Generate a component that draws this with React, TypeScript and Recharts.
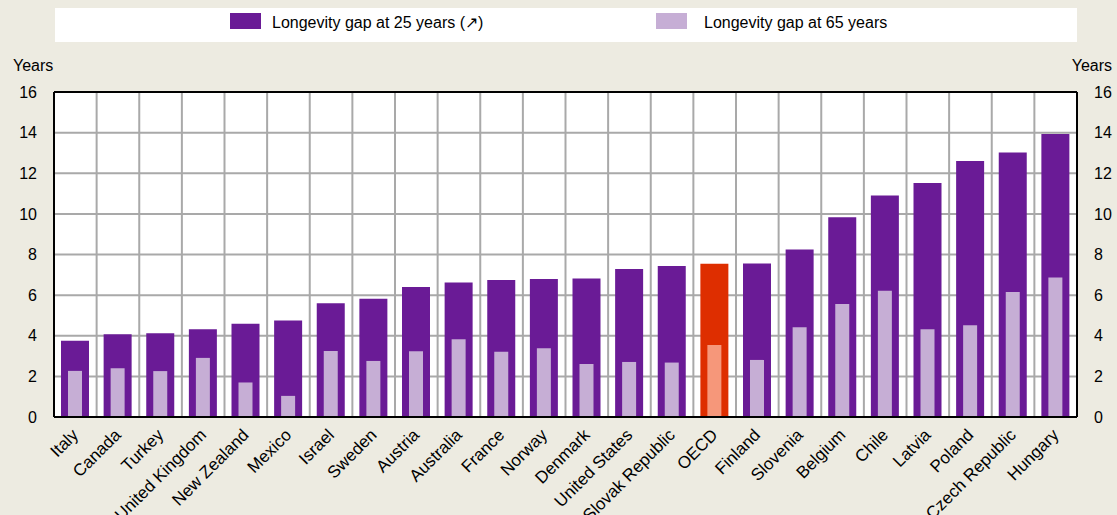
import {
  BarChart, Bar, XAxis, YAxis, CartesianGrid, Legend, Cell, ReferenceLine,
} from "recharts";

const countries = [
  "Italy", "Canada", "Turkey", "United Kingdom", "New Zealand", "Mexico",
  "Israel", "Sweden", "Austria", "Australia", "France", "Norway", "Denmark",
  "United States", "Slovak Republic", "OECD", "Finland", "Slovenia", "Belgium",
  "Chile", "Latvia", "Poland", "Czech Republic", "Hungary",
];

const gap25 = [
  3.76, 4.07, 4.12, 4.32, 4.59, 4.75, 5.6, 5.82, 6.4, 6.62, 6.74, 6.8, 6.82,
  7.29, 7.44, 7.55, 7.56, 8.25, 9.84, 10.91, 11.52, 12.6, 13.02, 13.93,
];

const gap65 = [
  2.27, 2.4, 2.26, 2.91, 1.7, 1.04, 3.25, 2.76, 3.24, 3.83, 3.21, 3.39, 2.61,
  2.71, 2.68, 3.55, 2.81, 4.42, 5.56, 6.22, 4.32, 4.52, 6.16, 6.87,
];

const yTicks = [0, 2, 4, 6, 8, 10, 12, 14, 16];

const DARK = "#6A1B96";
const LIGHT = "#C6AED5";
const RED = "#DE2E00";
const LIGHT_RED = "#F6977A";
const BG = "#EDEBE1";
const FONT = "'Liberation Sans', Arial, sans-serif";

const data = countries.map((name, i) => ({ name, gap25: gap25[i], gap65: gap65[i] }));

function CountryTick({ x, y, payload }: any) {
  return (
    <g transform={`translate(${x + 4},${y + 19})`}>
      <text textAnchor="end" transform="rotate(-45)" fontSize={17} fill="#000" fontFamily={FONT}>
        {payload.value}
      </text>
    </g>
  );
}

function YearsLabel({ viewBox, side }: any) {
  const left = side === "left";
  return (
    <text
      x={left ? 13 : viewBox.x + 35}
      y={71}
      textAnchor={left ? "start" : "end"}
      fontSize={16}
      fill="#000"
      fontFamily={FONT}
    >
      Years
    </text>
  );
}

function LegendBox() {
  const txt = { position: "absolute" as const, top: 6, fontSize: 16, lineHeight: "18px", color: "#000", whiteSpace: "nowrap" as const };
  return (
    <div style={{ position: "relative", width: 1117, height: 84, fontFamily: FONT }}>
      <div style={{ position: "absolute", left: 55, top: 0, width: 1022, height: 34, background: "#fff" }}>
        <div style={{ position: "absolute", left: 175, top: 5, width: 31, height: 16, background: DARK }} />
        <div style={{ ...txt, left: 217 }}>Longevity gap at 25 years (↗)</div>
        <div style={{ position: "absolute", left: 601, top: 5, width: 31, height: 16, background: LIGHT }} />
        <div style={{ ...txt, left: 649 }}>Longevity gap at 65 years</div>
      </div>
    </div>
  );
}

export default function App() {
  return (
    <div style={{ position: "absolute", left: 0, top: 0, width: 1117, height: 515, background: BG, fontFamily: FONT }}>
      <BarChart width={1117} height={515} data={data} margin={{ top: 8, right: 0, bottom: 0, left: 0 }}>
        <Legend verticalAlign="top" align="left" content={<LegendBox />} />
        <CartesianGrid
          xAxisId="main"
          yAxisId="left"
          fill="#fff"
          stroke="#A9A9A9"
          strokeWidth={2}
          verticalCoordinatesGenerator={({ offset }: any) =>
            countries.slice(1).map((_, i) => offset.left + ((i + 1) * offset.width) / countries.length)
          }
        />
        <XAxis xAxisId="inner" dataKey="name" orientation="top" height={0} hide />
        <XAxis
          xAxisId="main"
          dataKey="name"
          interval={0}
          height={98}
          tickSize={0}
          tickMargin={0}
          tickLine={false}
          axisLine={{ stroke: "#000", strokeWidth: 2 }}
          tick={<CountryTick />}
        />
        <YAxis
          yAxisId="left"
          domain={[0, 16]}
          ticks={yTicks}
          width={54}
          tickLine={false}
          tickSize={0}
          tickMargin={17}
          axisLine={{ stroke: "#000", strokeWidth: 2 }}
          tick={{ fill: "#000", fontSize: 16 }}
          label={<YearsLabel side="left" />}
        />
        <YAxis
          yAxisId="right"
          orientation="right"
          domain={[0, 16]}
          ticks={yTicks}
          width={40}
          tickLine={false}
          tickSize={0}
          tickMargin={17}
          axisLine={{ stroke: "#000", strokeWidth: 2 }}
          tick={{ fill: "#000", fontSize: 16 }}
          label={<YearsLabel side="right" />}
        />
        <ReferenceLine xAxisId="main" yAxisId="left" y={16} stroke="#000" strokeWidth={2} />
        <Bar xAxisId="main" yAxisId="left" dataKey="gap25" barSize={28} isAnimationActive={false}>
          {data.map((d) => (
            <Cell key={d.name} fill={d.name === "OECD" ? RED : DARK} />
          ))}
        </Bar>
        <Bar xAxisId="inner" yAxisId="right" dataKey="gap65" barSize={14} isAnimationActive={false}>
          {data.map((d) => (
            <Cell key={d.name} fill={d.name === "OECD" ? LIGHT_RED : LIGHT} />
          ))}
        </Bar>
      </BarChart>
    </div>
  );
}
